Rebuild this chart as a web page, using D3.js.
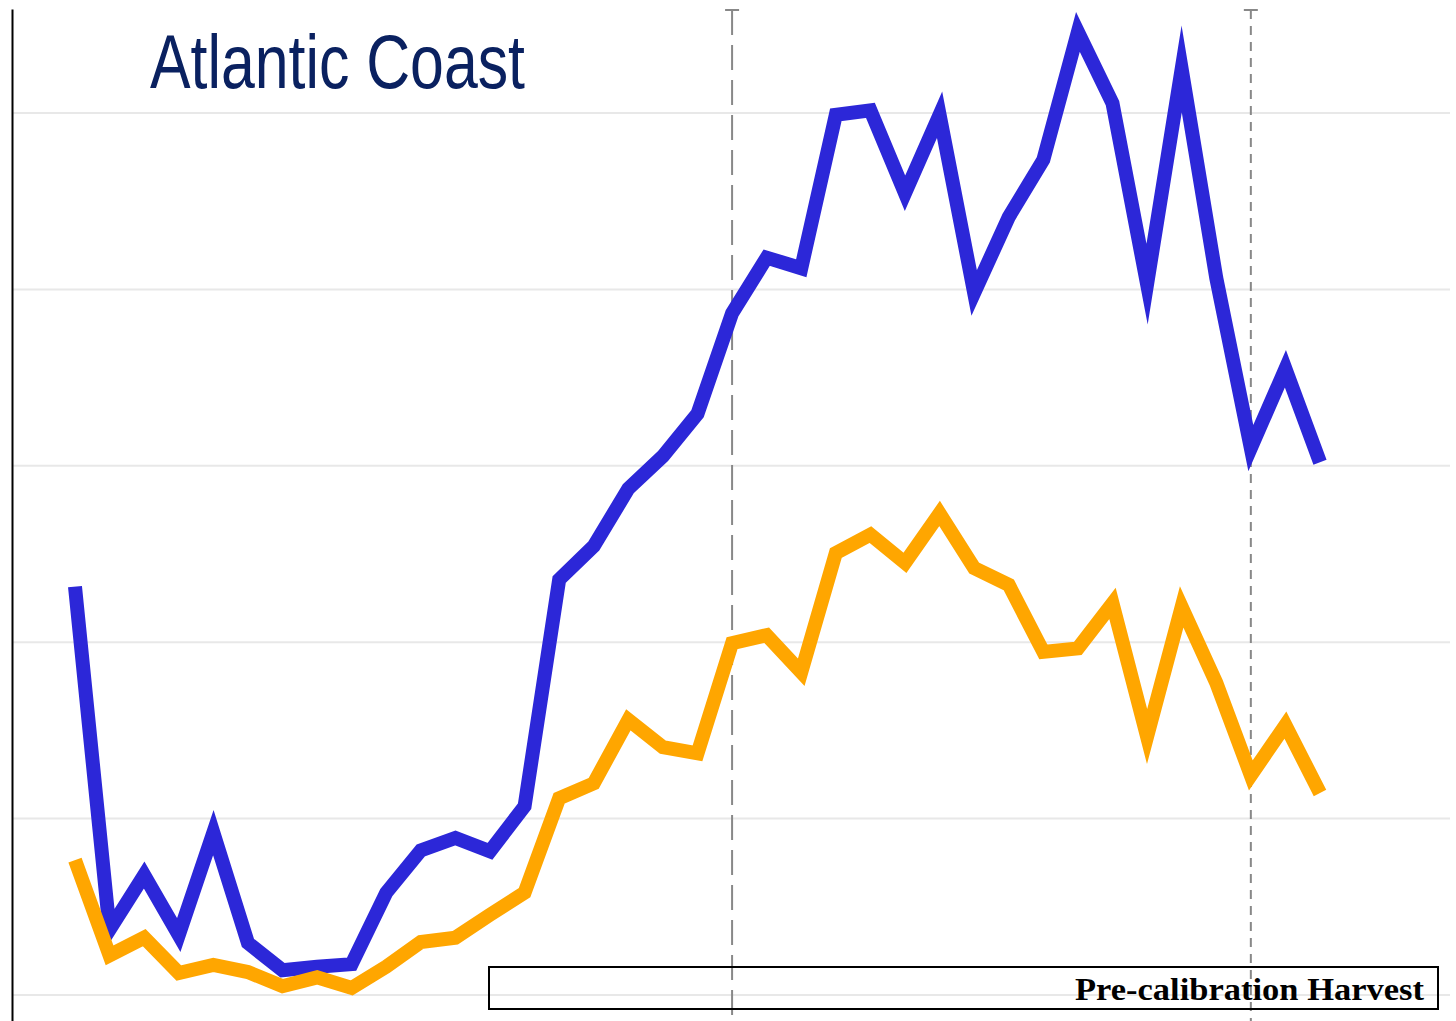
<!DOCTYPE html>
<html>
<head>
<meta charset="utf-8">
<script src="https://cdn.jsdelivr.net/npm/d3@7"></script>
<style>
  body { margin: 0; background: white; }
</style>
</head>
<body>
<svg id="line_chart"></svg>
<script>
let width = 1456
let height = 1021

// index of each period along the x axis
let periods = d3.range(37)

let blueSeries = [46.3, 7.4, 13.6, 6.8, 18.4, 5.9, 2.8, 3.2, 3.5, 11.6,
    16.4, 17.8, 16.3, 21.4, 47.1, 50.9, 57.4, 61.1, 65.9, 77.3,
    83.6, 82.4, 99.8, 100.3, 90.9, 99.8, 79.6, 88.2, 94.7, 109.2,
    101.1, 80.6, 105.0, 81.3, 62.0, 71.0, 60.4]

let orangeSeries = [15.3, 4.5, 6.5, 2.5, 3.4, 2.6, 1.0, 2.0, 0.8, 3.2,
    6.0, 6.5, 9.1, 11.6, 22.3, 24.0, 31.2, 28.1, 27.4, 39.9,
    40.8, 36.6, 50.1, 52.2, 49.0, 54.6, 48.4, 46.5, 38.9, 39.3,
    44.4, 29.3, 44.0, 35.4, 24.9, 30.6, 22.9]

let gridTicks = [0, 20, 40, 60, 80, 100]
let markerPeriods = [19, 34]
let markerDashes = ["25,10", "9,7"]

let title = "Atlantic Coast"
let boxLabel = "Pre-calibration Harvest"

let xScale = d3.scaleLinear().domain([0, 36]).range([75, 1320])
let yScale = d3.scaleLinear().domain([0, 100]).range([995, 113])

let svg = d3.select("#line_chart")
    .attr("width", width)
    .attr("height", height)

// gridlines
svg.append("g")
    .attr("id", "grid")
    .selectAll("line")
    .data(gridTicks)
    .enter()
    .append("line")
    .attr("x1", 12)
    .attr("x2", 1450)
    .attr("y1", d => yScale(d))
    .attr("y2", d => yScale(d))
    .attr("stroke", "#e8e8e8")
    .attr("stroke-width", 2)

// y axis line, no labels
svg.append("g")
    .attr("transform", "translate(12,0)")
    .call(d3.axisLeft(yScale.copy().domain([yScale.invert(1021), yScale.invert(9)]).range([1021, 9])).ticks(0).tickSizeOuter(0))
    .call(g => g.select(".domain").attr("stroke", "black").attr("stroke-width", 2))

// vertical dashed markers
let markers = svg.append("g").attr("id", "markers")
markerPeriods.forEach((p, i) => {
    let x = xScale(p)
    markers.append("line")
        .attr("x1", x).attr("x2", x)
        .attr("y1", 10).attr("y2", height)
        .attr("stroke", "#888")
        .attr("stroke-width", 2)
        .attr("stroke-dasharray", markerDashes[i])
    markers.append("line")
        .attr("x1", x - 7).attr("x2", x + 7)
        .attr("y1", 10).attr("y2", 10)
        .attr("stroke", "#888")
        .attr("stroke-width", 2)
})

let line = d3.line()
    .x((d, i) => xScale(periods[i]))
    .y(d => yScale(d))

svg.append("path")
    .datum(blueSeries)
    .attr("d", line)
    .attr("fill", "none")
    .attr("stroke", "#2c27d8")
    .attr("stroke-width", 14)
    .attr("stroke-linejoin", "miter")
    .attr("stroke-miterlimit", 10)

svg.append("path")
    .datum(orangeSeries)
    .attr("d", line)
    .attr("fill", "none")
    .attr("stroke", "#ffa600")
    .attr("stroke-width", 14)
    .attr("stroke-linejoin", "miter")
    .attr("stroke-miterlimit", 10)

// title
svg.append("text")
    .text(title)
    .attr("x", 150)
    .attr("y", 88)
    .attr("font-family", "'Liberation Sans Narrow', 'Liberation Sans', Arial, sans-serif")
    .attr("font-size", 76)
    .attr("fill", "#0a2160")
    .attr("textLength", 375)
    .attr("lengthAdjust", "spacingAndGlyphs")

// label box
svg.append("rect")
    .attr("x", 489)
    .attr("y", 967)
    .attr("width", 949)
    .attr("height", 42)
    .attr("fill", "white")
    .attr("fill-opacity", 0)
    .attr("stroke", "black")
    .attr("stroke-width", 2)

svg.append("text")
    .text(boxLabel)
    .attr("x", 1424)
    .attr("y", 1000)
    .attr("text-anchor", "end")
    .attr("font-family", "'Liberation Serif', 'Times New Roman', serif")
    .attr("font-weight", "bold")
    .attr("font-size", 31)
    .attr("fill", "black")
    .attr("textLength", 349)
    .attr("lengthAdjust", "spacingAndGlyphs")
</script>
</body>
</html>
